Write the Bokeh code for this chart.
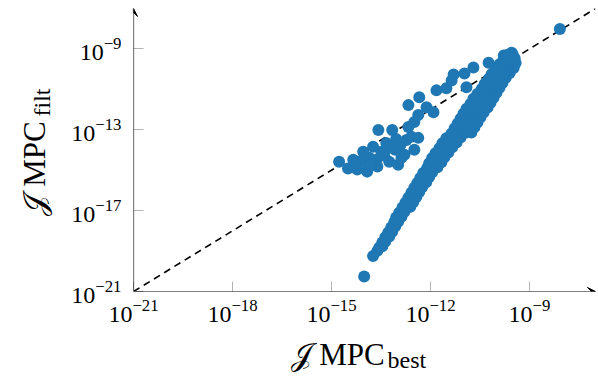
from bokeh.plotting import figure
from bokeh.models import FixedTicker, Arrow, VeeHead, Title, Range1d, ColumnDataSource
from bokeh.embed import file_html
from bokeh.resources import INLINE

# ---- data: log10 of the cost J for MPC_best (x) and MPC_filt (y) ----
# group close to the diagonal
near_best = [-14.77, -14.50, -14.16, -14.04, -13.92, -13.74, -13.64, -13.61, -13.58, -13.49,
             -13.34, -13.25, -13.16, -13.07, -12.98, -12.91, -12.79, -12.73, -12.58, -12.49,
             -12.67, -12.49, -12.37, -12.67, -12.34, -12.12, -11.91, -11.82, -11.52, -11.36,
             -11.30, -10.97, -10.91, -10.70, -10.24, -9.78, -9.54, -14.22, -13.86, -13.40,
             -13.19, -12.88, -14.34, -13.95, -13.04, -13.83, -12.37, -8.08]
near_filt = [-14.58, -14.92, -14.58, -14.09, -15.07, -13.84, -14.48, -14.82, -13.01, -14.09,
             -13.65, -14.58, -13.01, -13.99, -14.73, -13.75, -14.24, -13.50, -13.35, -13.99,
             -12.86, -12.62, -12.27, -11.78, -11.39, -11.88, -12.13, -11.05, -10.95, -10.56,
             -10.26, -10.22, -10.90, -9.92, -9.68, -9.33, -9.19, -14.97, -14.38, -14.28,
             -13.89, -14.38, -14.48, -14.63, -13.45, -14.73, -13.40, -8.01]

# steep band
band_best = [-14.01,
             -13.74, -13.61,
             -13.55, -13.46, -13.46, -13.37, -13.37, -13.25, -13.28, -13.16,
             -13.19, -13.07, -13.10, -12.98, -13.04, -12.88, -12.95, -12.79,
             -12.85, -12.70, -12.61, -12.76, -12.61, -12.52, -12.67, -12.52, -12.43,
             -12.58, -12.43, -12.34, -12.49, -12.34, -12.25, -12.40, -12.25, -12.13,
             -12.31, -12.16, -12.04, -12.22, -12.04, -11.95, -12.10, -11.95, -11.79,
             -12.04, -11.85, -11.67, -11.95, -11.76, -11.58, -11.85, -11.64, -11.46,
             -11.73, -11.52, -11.34, -11.64, -11.43, -11.21, -11.52, -11.31, -11.09,
             -11.37, -11.15, -10.94, -10.76, -11.27, -11.06, -10.85, -10.67,
             -11.18, -10.97, -10.76, -10.58, -11.09, -10.88, -10.67, -10.49,
             -11.00, -10.79, -10.58, -10.39, -10.91, -10.70, -10.49, -10.27,
             -10.79, -10.58, -10.36, -10.18, -10.70, -10.49, -10.27, -10.09,
             -10.58, -10.36, -10.15, -10.00, -10.45, -10.27, -10.06, -9.91,
             -10.36, -10.15, -9.97, -9.82, -10.24, -10.06, -9.88, -9.72,
             -10.15, -9.94, -9.75, -9.60, -10.03, -9.82, -9.63, -9.48,
             -9.91, -9.69, -9.51, -9.42, -9.78, -9.60, -9.45, -9.66, -9.51]
band_filt = [-20.26,
             -19.24, -18.99,
             -18.82, -18.76, -18.57, -18.53, -18.32, -18.28, -18.08, -18.04,
             -17.83, -17.79, -17.59, -17.55, -17.34, -17.30, -17.10, -17.06,
             -16.85, -16.83, -16.81, -16.61, -16.59, -16.57, -16.36, -16.34, -16.32,
             -16.12, -16.10, -16.08, -15.87, -15.85, -15.83, -15.63, -15.61, -15.59,
             -15.38, -15.36, -15.34, -15.14, -15.12, -15.10, -14.89, -14.87, -14.85,
             -14.65, -14.63, -14.61, -14.40, -14.38, -14.36, -14.16, -14.14, -14.12,
             -13.91, -13.89, -13.87, -13.67, -13.65, -13.63, -13.42, -13.40, -13.38,
             -13.19, -13.17, -13.15, -13.13, -12.94, -12.92, -12.90, -12.88,
             -12.70, -12.68, -12.66, -12.64, -12.45, -12.43, -12.41, -12.39,
             -12.21, -12.19, -12.17, -12.15, -11.96, -11.94, -11.92, -11.90,
             -11.72, -11.70, -11.68, -11.66, -11.47, -11.45, -11.43, -11.41,
             -11.23, -11.21, -11.19, -11.17, -10.98, -10.96, -10.94, -10.92,
             -10.74, -10.72, -10.70, -10.68, -10.49, -10.47, -10.45, -10.43,
             -10.25, -10.23, -10.21, -10.19, -10.00, -9.98, -9.96, -9.94,
             -9.76, -9.74, -9.72, -9.70, -9.50, -9.48, -9.46, -9.29, -9.27]

x_ticks = [1e-21, 1e-18, 1e-15, 1e-12, 1e-9]
y_ticks = [1e-21, 1e-17, 1e-13, 1e-9]
diag = [1e-21, 1e-7]

x_lo, x_hi = 1e-21, 1e-7
y_lo, y_hi = 1e-21, 1e-7

xs = [10.0 ** e for e in near_best + band_best]
ys = [10.0 ** e for e in near_filt + band_filt]
src = ColumnDataSource(dict(x=xs, y=ys))

p = figure(width=598, height=381, output_backend="svg", toolbar_location=None,
           x_axis_type="log", y_axis_type="log",
           x_range=Range1d(x_lo, x_hi), y_range=Range1d(y_lo, y_hi),
           min_border_left=133, min_border_right=3, min_border_top=8, min_border_bottom=88)
p.outline_line_color = None
p.grid.visible = False
p.background_fill_color = "white"
p.border_fill_color = "white"

FONT = "Liberation Serif"
p.xaxis.ticker = FixedTicker(ticks=x_ticks, minor_ticks=[])
p.yaxis.ticker = FixedTicker(ticks=y_ticks, minor_ticks=[])
for ax in (p.xaxis, p.yaxis):
    ax.axis_line_color = None
    ax.major_tick_in = 10
    ax.major_tick_out = 0
    ax.major_tick_line_color = "#b4b4b4"
    ax.major_tick_line_width = 1
    ax.minor_tick_line_color = None
    ax.major_label_text_font = FONT
    ax.major_label_text_font_size = "24px"
    ax.major_label_text_color = "black"
    ax.axis_label = None
p.xaxis.major_label_standoff = 8
p.yaxis.major_label_standoff = 12

# dashed diagonal y = x
p.line(diag, diag, line_color="black", line_width=1.6, line_dash="7 5")

# scatter
p.scatter("x", "y", source=src, size=12, fill_color="#1f77b4", line_color=None)

# axis lines with arrow heads
for (xs0, ys0, xe0, ye0) in [(x_lo, y_lo, x_hi, y_lo), (x_lo, y_lo, x_lo, y_hi)]:
    p.add_layout(Arrow(end=VeeHead(size=8, line_color="black", fill_color="black", line_width=1),
                       x_start=xs0, y_start=ys0, x_end=xe0, y_end=ye0,
                       line_color="black", line_width=1.2))

# axis labels with subscripts (titles in the side panels)
tstyle = dict(text_font=FONT, text_font_style="normal", text_color="black")
p.add_layout(Title(text="𝒥 MPC", align="left", offset=157, standoff=20,
                   text_font_size="31px", **tstyle), "below")
p.add_layout(Title(text="best", align="left", offset=254, standoff=-70, vertical_align="top",
                   text_font_size="24px", **tstyle), "below")
p.add_layout(Title(text="filt", align="left", offset=175, standoff=28,
                   text_font_size="24px", **tstyle), "left")
p.add_layout(Title(text="𝒥 MPC", align="left", offset=76, standoff=-78,
                   text_font_size="31px", **tstyle), "left")

open("out.html", "w").write(file_html(p, INLINE))
